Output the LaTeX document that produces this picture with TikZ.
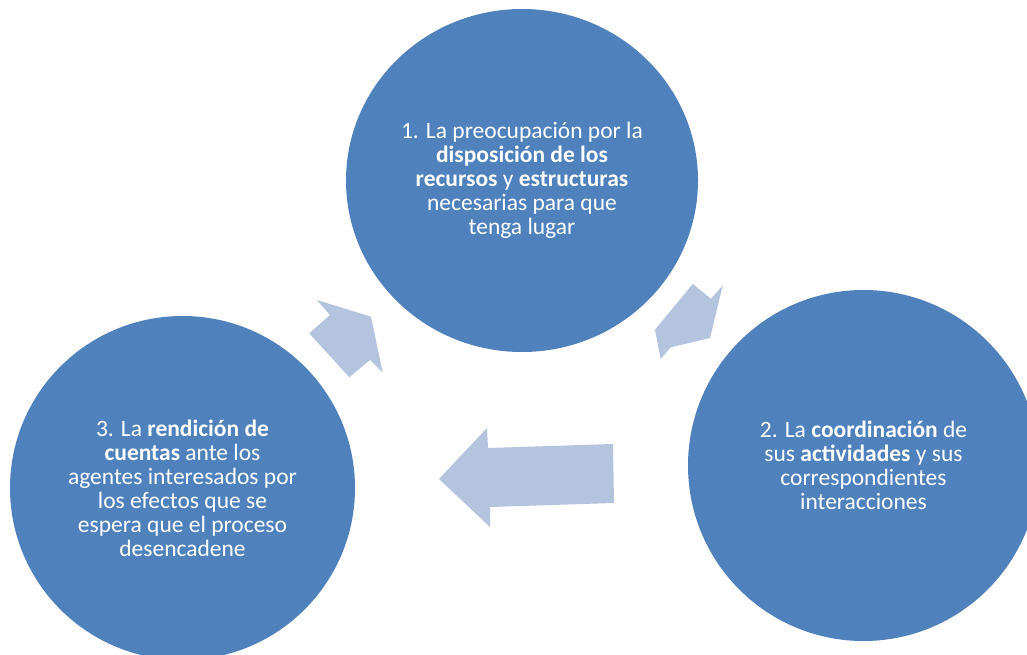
\documentclass[tikz,border=0pt]{standalone}
\usepackage{fontspec}
\setmainfont{Carlito}
\usepackage{tikz}
\usetikzlibrary{shapes.geometric}
\definecolor{cycleblue}{HTML}{4F81BD}
\definecolor{arrowblue}{HTML}{B4C3DE}
\tikzstyle{stage}=[ellipse,fill=cycleblue,text=white,inner sep=0pt,align=center,
  font=\fontsize{23.5}{24}\selectfont]
\tikzstyle{blockarrow}=[fill=arrowblue]

\begin{document}
\begin{tikzpicture}[x=1pt,y=-1pt]
  \useasboundingbox (0,0) rectangle (1027,655);
  \clip (0,0) rectangle (1027,655);

  \node[stage,minimum width=352pt,minimum height=343pt] (stage 1) at (522,180.5)
    {1. La preocupación por la\\ \textbf{disposición de los}\\
     \textbf{recursos} y \textbf{estructuras}\\ necesarias para que\\ tenga lugar};
  \node[stage,minimum width=351pt,minimum height=351pt] (stage 2) at (863.5,465.5)
    {2. La \textbf{coordinación} de\\ sus \textbf{actividades} y sus\\
     correspondientes\\ interacciones};
  \node[stage,minimum width=345pt,minimum height=344pt] (stage 3) at (182.5,488)
    {3. La \textbf{rendición de}\\ \textbf{cuentas} ante los\\ agentes interesados por\\
     los efectos que se\\ espera que el proceso\\ desencadene};

  % arrows of the cycle
  \fill[blockarrow] (692.7,284) -- (711,298.7) -- (722.7,285.3) -- (710,338)
    -- (670.7,347.3) -- (660.7,359) -- (655,329.7) -- cycle;
  \fill[blockarrow] (613,444) -- (488,448) -- (487,428) -- (439,479)
    -- (490,527) -- (490,507) -- (614,503) -- cycle;
  \fill[blockarrow] (309.3,333.3) -- (330,315) -- (316.7,300) -- (371,316.7)
    -- (382.7,372.7) -- (370,360) -- (349.3,377.3) -- cycle;
\end{tikzpicture}
\end{document}
